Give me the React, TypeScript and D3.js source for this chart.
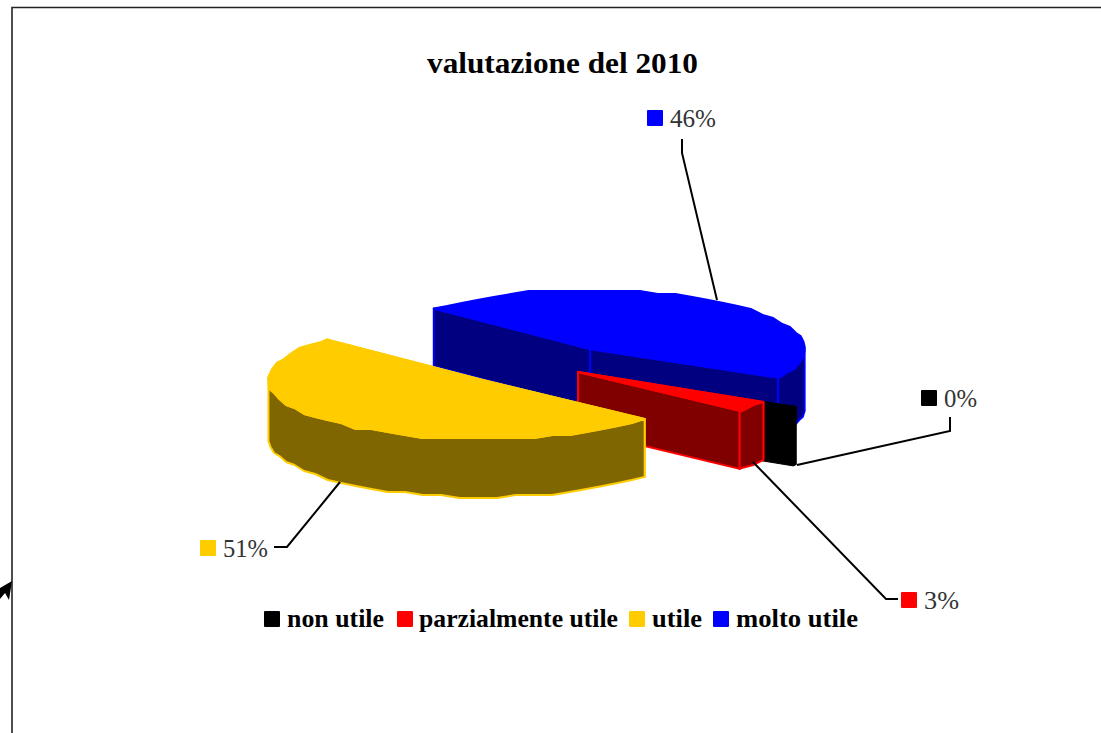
import React from "react";
import * as d3 from "d3";

const categories = ["non utile", "parzialmente utile", "utile", "molto utile"];
const values = [0.4, 3.0, 50.6, 46.0];
const shownLabels = ["0%", "3%", "51%", "46%"];
const topColors = ["#000000", "#ff0000", "#ffcc00", "#0000ff"];
const wallColors = ["#000000", "#800000", "#806600", "#000080"];
const sliceCentres: [number, number][] = [[608, 378], [578, 372], [483, 380], [590, 349]];
const drawOrder = [3, 0, 1, 2];
const labelBoxes: [number, number][] = [[921, 398], [901, 600], [200, 548], [647, 118]];
const labelWidths = [33, 35, 45, 46];
const leaderPaths: [number, number][][] = [
  [[797, 465], [950, 431], [950, 417]],
  [[753, 462], [886, 599], [898, 599]],
  [[340, 482], [287, 547], [274, 547]],
  [[717, 300], [682, 153], [682, 139]],
];
const legendBoxes = [264, 397, 629, 713];
const legendText = [287, 419, 652, 736];
const legendWidths = [97, 199, 50, 122];

const RX = 215, RY = 59, DEPTH = 58;
const START = (29 * Math.PI) / 180;
const STEP = (5 * Math.PI) / 180;
const GRID = 3;

const arcs = d3.pie<number>().sort(null).startAngle(START).endAngle(START + 2 * Math.PI)(values);
const pathOf = d3.line();

function samples(a0: number, a1: number) {
  const out = d3.range(a0, a1, STEP);
  out.push(a1);
  return out;
}

export default function App() {
  const serif = "'Liberation Serif', serif";
  return (
    <svg width={1101} height={733} style={{ position: "absolute", left: 0, top: 0, background: "#fff" }} fontFamily={serif}>
      <path d="M12 733V7.5H1101" fill="none" stroke="#222" strokeWidth={1.6} />
      <path d="M0 588L12 581L9 600L5 593L0 599Z" fill="#000" />
      <text x={427} y={73} fontSize={29} fontWeight="bold" textLength={271} lengthAdjust="spacingAndGlyphs">valutazione del 2010</text>

      {drawOrder.map((i) => {
        const a = arcs[i];
        const [cx, cy] = sliceCentres[i];
        const pt = (t: number, dz = 0): [number, number] => {
          const x = cx + RX * Math.cos(t);
          const y = cy + RY * Math.sin(t) + dz;
          // coarse rim, as in the low-resolution original; slice corners stay exact
          if (t === a.startAngle || t === a.endAngle) return [x, y];
          return [x, Math.round(y / GRID) * GRID];
        };
        const rim = samples(a.startAngle, a.endAngle);
        const top: [number, number][] = [[cx, cy], ...rim.map((t) => pt(t))];
        const radial = (t: number): [number, number][] => [[cx, cy], pt(t), pt(t, DEPTH), [cx, cy + DEPTH]];
        const front = rim.filter((t) => Math.sin(t) >= -0.02);
        const outer: [number, number][] = [...front.map((t) => pt(t)), ...[...front].reverse().map((t) => pt(t, DEPTH))];
        const sw = i === 0 ? 1 : 2;
        return (
          <g key={i} strokeLinejoin="round">
            <path d={pathOf(radial(a.startAngle)) + "Z"} fill={wallColors[i]} stroke={topColors[i]} strokeWidth={sw} />
            <path d={pathOf(radial(a.endAngle)) + "Z"} fill={wallColors[i]} stroke={topColors[i]} strokeWidth={sw} />
            {front.length > 1 && <path d={pathOf(outer) + "Z"} fill={wallColors[i]} stroke={topColors[i]} strokeWidth={sw} />}
            <path d={pathOf(top) + "Z"} fill={topColors[i]} stroke={topColors[i]} strokeWidth={sw} />
          </g>
        );
      })}

      {leaderPaths.map((p, i) => (
        <path key={i} d={pathOf(p) as string} fill="none" stroke="#000" strokeWidth={2} />
      ))}
      {shownLabels.map((l, i) => (
        <g key={l}>
          <rect x={labelBoxes[i][0]} y={labelBoxes[i][1] - 8} width={16} height={16} rx={1} fill={topColors[i]} />
          <text x={labelBoxes[i][0] + 23} y={labelBoxes[i][1] + 9} fontSize={25} fill="#333" textLength={labelWidths[i]} lengthAdjust="spacingAndGlyphs">{l}</text>
        </g>
      ))}
      {categories.map((c, i) => (
        <g key={c}>
          <rect x={legendBoxes[i]} y={611} width={16} height={16} rx={1} fill={topColors[i]} />
          <text x={legendText[i]} y={627} fontSize={25} fontWeight="bold" textLength={legendWidths[i]} lengthAdjust="spacingAndGlyphs">{c}</text>
        </g>
      ))}
    </svg>
  );
}
